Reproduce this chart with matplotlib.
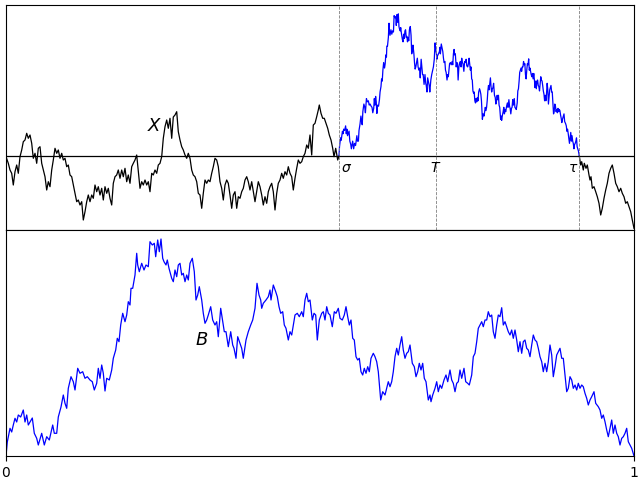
import numpy as np
import matplotlib
matplotlib.use("Agg")
import matplotlib.pyplot as plt

# ---- data (time in steps of 1/628, values in arbitrary path units) ----
TOTAL = 628.0
sigma_t, T_t, tau_t = 333.0, 429.5, 573.3
excursion_scale = 0.655   # height of X-excursion relative to rescaled B

x_pre_t = [0, 2.3, 4, 5.7, 7.3, 9, 10.7, 12.3, 14, 15.7, 17.3, 19, 20.7, 22.3, 24, 25.7, 27.3, 29,
           30.7, 32.3, 34, 35.7, 37.3, 39, 40.7, 42.3, 44, 45.7, 47.3, 49, 50.7, 52.3, 54, 55.7, 57.3,
           59, 60.7, 62.3, 64, 65.7, 67.3, 69, 70.7, 72.3, 74, 75.7, 77.3, 79, 80.7, 82.3, 84, 85.7,
           87.3, 89, 90.7, 92.3, 94, 95.7, 97.3, 99, 100.7, 102.3, 104, 105.7, 107.3, 109, 110.7,
           112.3, 114, 115.7, 117.3, 119, 120.7, 122.3, 124, 125.7, 127.3, 129, 130.7, 132.3, 134,
           135.7, 137.3, 139, 140.7, 142.3, 144, 145.7, 147.3, 149, 150.7, 152.3, 154, 155.7, 157.3,
           159, 160.7, 162.3, 164, 165.7, 167.3, 169, 170.7, 172.3, 174, 175.7, 177.3, 179, 180.7,
           182.3, 184, 185.7, 187.3, 189, 190.7, 192.3, 194, 195.7, 197.3, 199, 200.7, 202.3, 204,
           205.7, 207.3, 209, 210.7, 212.3, 214, 215.7, 217.3, 219, 220.7, 222.3, 224, 225.7, 227.3,
           229, 230.7, 232.3, 234, 235.7, 237.3, 239, 240.7, 242.3, 244, 245.7, 247.3, 249, 250.7,
           252.3, 254, 255.7, 257.3, 259, 260.7, 262.3, 264, 265.7, 267.3, 269, 270.7, 272.3, 274,
           275.7, 277.3, 279, 280.7, 282.3, 284, 285.7, 287.3, 289, 290.7, 292.3, 294, 295.7, 297.3,
           299, 300.7, 302.3, 304, 305.7, 307.3, 309, 310.7, 312.3, 313.3, 315, 316.7, 318.3, 320,
           321.7, 323.3, 325, 326.7, 328, 329.7, 331.7, 333]
x_pre_v = [-0.7, -7.3, -14, -17.3, -29, -15.7, -9, -17.3, -0.7, 6, 14.3, 16, 22.7, 17.7, 21, 12.7, -2.3,
           2.7, -7.3, 7.7, 9.3, -7.3, -14, -20.7, -34, -25.7, -30.7, -14, -4, 7.7, 2.7, 6, -2.3, 2.7,
           -4, -2.3, -10.7, -9, -19, -20.7, -29, -37.3, -45.7, -44, -49, -45.7, -64, -55.7, -45.7, -39,
           -45.7, -39, -42.3, -29, -35.7, -30.7, -39, -32.3, -44, -30.7, -37.3, -32.3, -42.3, -49,
           -27.3, -20.7, -19, -14, -22.3, -14, -20.7, -12.3, -25.7, -19, -27.3, -10.7, -7.3, -4, 1,
           -15.7, -32.3, -25.7, -29, -24, -29, -25.7, -35.7, -17.3, -19, -14, -17.3, -9, -7.3, -0.7,
           17.7, 29.3, 36, 27.7, 37.7, 17.7, 39, 41, 44.3, 24.3, 16, 9.3, 6, 1, -2.3, 2.7, -2.3, -14,
           -19, -20.7, -25.7, -37.3, -39, -52.3, -37.3, -24, -27.3, -24, -25.7, -17.3, -10.7, -2.3,
           -4, -10.7, -25.7, -32.3, -44, -29, -24, -27.3, -39, -52.3, -39, -35.7, -52.3, -40.7, -42.3,
           -35.7, -32.3, -24, -20.7, -25.7, -34, -25.7, -35.7, -45.7, -35.7, -25.7, -30.7, -39, -49,
           -40.7, -47.3, -35.7, -30.7, -27.3, -35.7, -54, -37.3, -27.3, -24, -17.3, -22.3, -15.7, -19,
           -10.7, -17.3, -20.7, -34, -22.3, -12.3, -4, -7.3, -5.7, -0.7, 2.7, 11, 7.7, 21, 1, 31,
           32.7, 39.3, 46, 51, 42.7, 37.7, 37.7, 32.7, 27.7, 21, 16, 7.7, -0.7, 7.7, -4, 0]

x_post_t = [573.3, 574.7, 575.7, 577.3, 578.3, 580, 581.3, 583, 584, 585, 586.3, 588, 589.7, 591.3,
            593, 594.7, 596.3, 598, 599.7, 601.3, 603, 604.7, 606.3, 608, 609.7, 611.3, 613, 614.7,
            616.3, 618, 619.7, 621.3, 623, 624.7, 626.3, 628]
x_post_v = [0, -9, -5.7, -14, -7.3, -12.3, -9, -19, -24, -20.7, -32.3, -30.7, -35.7, -40.7, -47.3,
            -59, -52.3, -42.3, -34, -27.3, -17.3, -12.3, -9, -17.3, -27.3, -30.7, -35.7, -32.3,
            -37.3, -40.7, -47.3, -45.7, -50.7, -55.7, -64, -72.3]

b_t = [0, 1.3, 4, 5.7, 7.3, 9, 10.7, 12.3, 14.7, 17.3, 19, 20.7, 22.3, 24, 26.3, 28.3, 30.7, 32.3,
       35.7, 38.3, 40.7, 43.3, 46.7, 48.3, 50.7, 52.3, 55, 57.3, 59, 60.7, 62.3, 65, 67.3, 69, 71.7,
       74, 76.7, 79, 81.3, 84, 86.3, 88.3, 90.7, 92.3, 94, 95.7, 97.3, 99, 100.7, 103.3, 105.7,
       107.3, 109.7, 111.3, 113, 114.7, 116.7, 119, 120.7, 122.3, 124, 125, 126.7, 129, 130.7,
       131.7, 133.3, 135.7, 138, 140, 142.3, 144, 146.3, 148.3, 149.7, 151.7, 153.3, 155,
       156.7, 158, 160, 161.3, 163, 165.7, 167.3, 169, 170.7, 172.3, 174, 175.7, 177.3, 179, 180.7,
       182.3, 184, 186.3, 188.3, 190, 191.7, 193.3, 195.7, 197.3, 199, 200.7, 202.3, 204.7, 206.7,
       209, 210.7, 212.3, 214.7, 216.7, 218.3, 220, 222.3, 224.7, 226.7, 228, 230, 231.7, 234,
       235.7, 237.3, 240, 242.3, 244.7, 246.7, 249, 251, 253, 254.7, 255.7, 257.3, 260, 262.3, 264,
       265, 267.3, 269.7, 271.3, 273, 274.7, 276.7, 278.3, 280, 282.3, 284, 285.7, 287.3, 289,
       291.3, 293.3, 295.7, 297.3, 299, 300.7, 302.3, 304, 306.3, 308, 309.7, 311.3, 313.3, 315.7,
       317.3, 319, 320.7, 322.3, 324, 326.3, 328.3, 330, 332.3, 334, 336.3, 338.3, 340, 341.7,
       343.3, 345, 346.7, 348.3, 350, 351.7, 353.3, 355, 356.7, 358.3, 360, 361.7, 363.3, 365,
       367.3, 369, 370.7, 372.3, 374.7, 376.7, 379, 380.7, 382.3, 384, 385.7, 387.3, 389, 390.7,
       392.3, 394, 395.7, 397.3, 399, 400.7, 402.3, 404, 406.3, 408.3, 410, 411.7, 413.3, 415,
       416.7, 418.3, 420, 422.3, 424, 425, 426.7, 429, 430.7, 432.3, 434, 435.7, 438, 440, 441.7,
       444, 445.7, 447.3, 449, 450.7, 452.3, 454, 455.7, 458, 459.7, 461.7, 463.3, 465.7, 467.3,
       469, 470.7, 472.3, 474, 475.7, 477.3, 479, 480.7, 482.3, 484, 485.7, 487.3, 489, 490.7,
       492.3, 494, 495.7, 497.3, 499, 500.7, 502.3, 504, 505.7, 507.3, 509, 510.7, 512.3, 514,
       515.7, 517.3, 519, 520.7, 522.3, 524, 525.7, 527.3, 529, 530.7, 532.3, 534, 535.7, 537.3,
       539, 540.7, 542.3, 544, 545.7, 547.3, 549, 550.7, 552.3, 554, 555.7, 557.3, 559, 560.7,
       562.3, 564, 565.7, 567.3, 569, 570.7, 572.3, 574, 575.7, 577.3, 579, 580.7, 582.3, 584,
       585.7, 588, 589.7, 592.3, 594, 595.7, 597.3, 599, 600.7, 602.3, 604, 605.7, 607.3, 609,
       610.7, 612.3, 614, 615.7, 617.3, 619, 620.7, 622.3, 624, 625.7, 628]
b_v = [0, 14, 27.7, 24, 31, 37.7, 34, 41, 39, 46, 34, 41, 31, 34, 38, 22.7, 17.7, 11, 22.7, 11, 19.3,
       16, 31, 22.7, 22.7, 39, 49, 61, 52.7, 47.7, 67.7, 79.3, 74.3, 66, 87.7, 82.7, 84.3, 77.7,
       79.3, 76, 74.3, 66, 72.7, 87.7, 77.7, 91, 82.7, 65, 77.7, 76, 86, 97.7, 106, 117.7, 114.3,
       131, 142.7, 134.3, 141, 154.3, 151, 167.7, 167.7, 181, 202.7, 191, 184.3, 192.7, 186, 191,
       189.3, 214.3, 211, 212.7, 199.3, 216, 204.3, 217,
       197.7, 194.3, 191, 196, 187.7, 177.7, 174.3, 186, 179.3, 191, 192.7, 181, 182.7, 174.3, 181,
       176, 192.7, 197.7, 184.3, 156, 161, 169.3, 156, 142.7, 132.7, 136, 141, 149.3, 136, 131,
       134.3, 119.3, 147.7, 134.3, 124.3, 124.3, 109.3, 124.3, 111, 107.7, 97.7, 119.3, 112.7,
       107.7, 97.7, 116, 124.3, 131, 136, 147.7, 172.7, 161, 156, 147.7, 152.7, 156, 159.3, 166,
       156, 171, 164.3, 159.3, 149.3, 142.7, 144.3, 131, 127.7, 116, 124.3, 121, 131, 141, 142.7,
       139.3, 144.3, 139.3, 156, 162.7, 154.3, 156, 136, 142.7, 141, 116, 136, 142.7, 144.3, 136,
       149.3, 142.7, 141, 129.3, 144.3, 142.7, 147.7, 137.7, 136, 141, 149.3, 139.3, 131, 136,
       117.7, 116, 99.3, 96, 97.7, 84.3, 81, 87.7, 82.7, 89.3, 84.3, 97.7, 102.7, 99.3, 94.3, 84.3,
       56, 64.3, 61, 67.7, 74.3, 69.3, 74.3, 84.3, 99.3, 107.7, 101, 111, 119.3, 106, 97.7, 102.7,
       104.3, 111, 92.7, 89.3, 79.3, 84.3, 92.7, 86, 92.7, 77.7, 74.3, 56, 61, 54.3, 61, 67.7,
       74.3, 64.3, 71, 67.7, 76, 81, 74.3, 86, 76, 72.7, 64.3, 72.7, 74.3, 86, 77.7, 87.7, 74.3,
       72.7, 71, 81, 99.3, 102.7, 114.3, 127.7, 131, 134.3, 129.3, 136, 136, 144.3, 139.3, 141,
       124.3, 117.7, 131, 141, 139.3, 148.3, 131, 134.3, 129.3, 124.3, 121, 126, 117.7, 126, 116,
       104.3, 114.3, 102.7, 114.3, 116, 107.7, 106, 99.3, 111, 121, 116, 114.3, 107.7, 99.3, 94.3,
       84.3, 92.7, 84.3, 94.3, 111, 101, 79.3, 89.3, 101, 104.3, 107.7, 97.7, 97.7, 81, 64.3, 67.7,
       79.3, 76, 67.7, 71, 66, 72.7, 67.7, 71, 69.3, 62.7, 57.7, 51, 56, 59.3, 64.3, 52.7, 49.3, 46,
       37.7, 41, 34.3, 26, 19.3, 27.7, 36, 22.7, 31, 22.7, 19.3, 11, 17.7, 19.3, 22.7, 27.7, 14.3,
       11, 7.7, 0]

# ---- figure ----
fig = plt.figure(figsize=(6.4, 4.8), dpi=100)
ax1 = fig.add_axes([6 / 640, 1 - 230 / 480, 628 / 640, 225 / 480])
ax2 = fig.add_axes([6 / 640, 24 / 480, 628 / 640, 226 / 480])

pre_t = np.array(x_pre_t) / TOTAL
post_t = np.array(x_post_t) / TOTAL
bt = np.array(b_t) / TOTAL
bv = np.array(b_v)
s, T, tau = sigma_t / TOTAL, T_t / TOTAL, tau_t / TOTAL
exc_t = s + bt * (tau - s)
exc_v = excursion_scale * bv

lw = 0.9
ax1.plot(pre_t, x_pre_v, color="black", lw=lw)
ax1.plot(post_t, x_post_v, color="black", lw=lw)
ax1.plot(exc_t, exc_v, color="blue", lw=lw)
ax1.axhline(0, color="black", lw=0.9)
for v in (s, T, tau):
    ax1.axvline(v, color="gray", ls="--", lw=0.6)
ax1.text(149 / TOTAL, 30, "$X$", fontsize=13, ha="center", va="center")
ax1.text(s + 0.003, -5, r"$\sigma$", fontsize=10, ha="left", va="top")
ax1.text(T, -5, "$T$", fontsize=10, ha="center", va="top")
ax1.text(tau - 0.002, -5, r"$\tau$", fontsize=10, ha="right", va="top")
ax1.set_xlim(0, 1)
ax1.set_ylim(-74, 151)
ax1.set_xticks([])
ax1.set_yticks([])

ax2.plot(bt, bv, color="blue", lw=lw)
ax2.text(195.5 / TOTAL, 116, "$B$", fontsize=13, ha="center", va="center")
ax2.set_xlim(0, 1)
ax2.set_ylim(0, 226)
ax2.set_xticks([0, 1])
ax2.set_xticklabels(["0", "1"])
ax2.set_yticks([])

fig.savefig("out.png", dpi=100)
